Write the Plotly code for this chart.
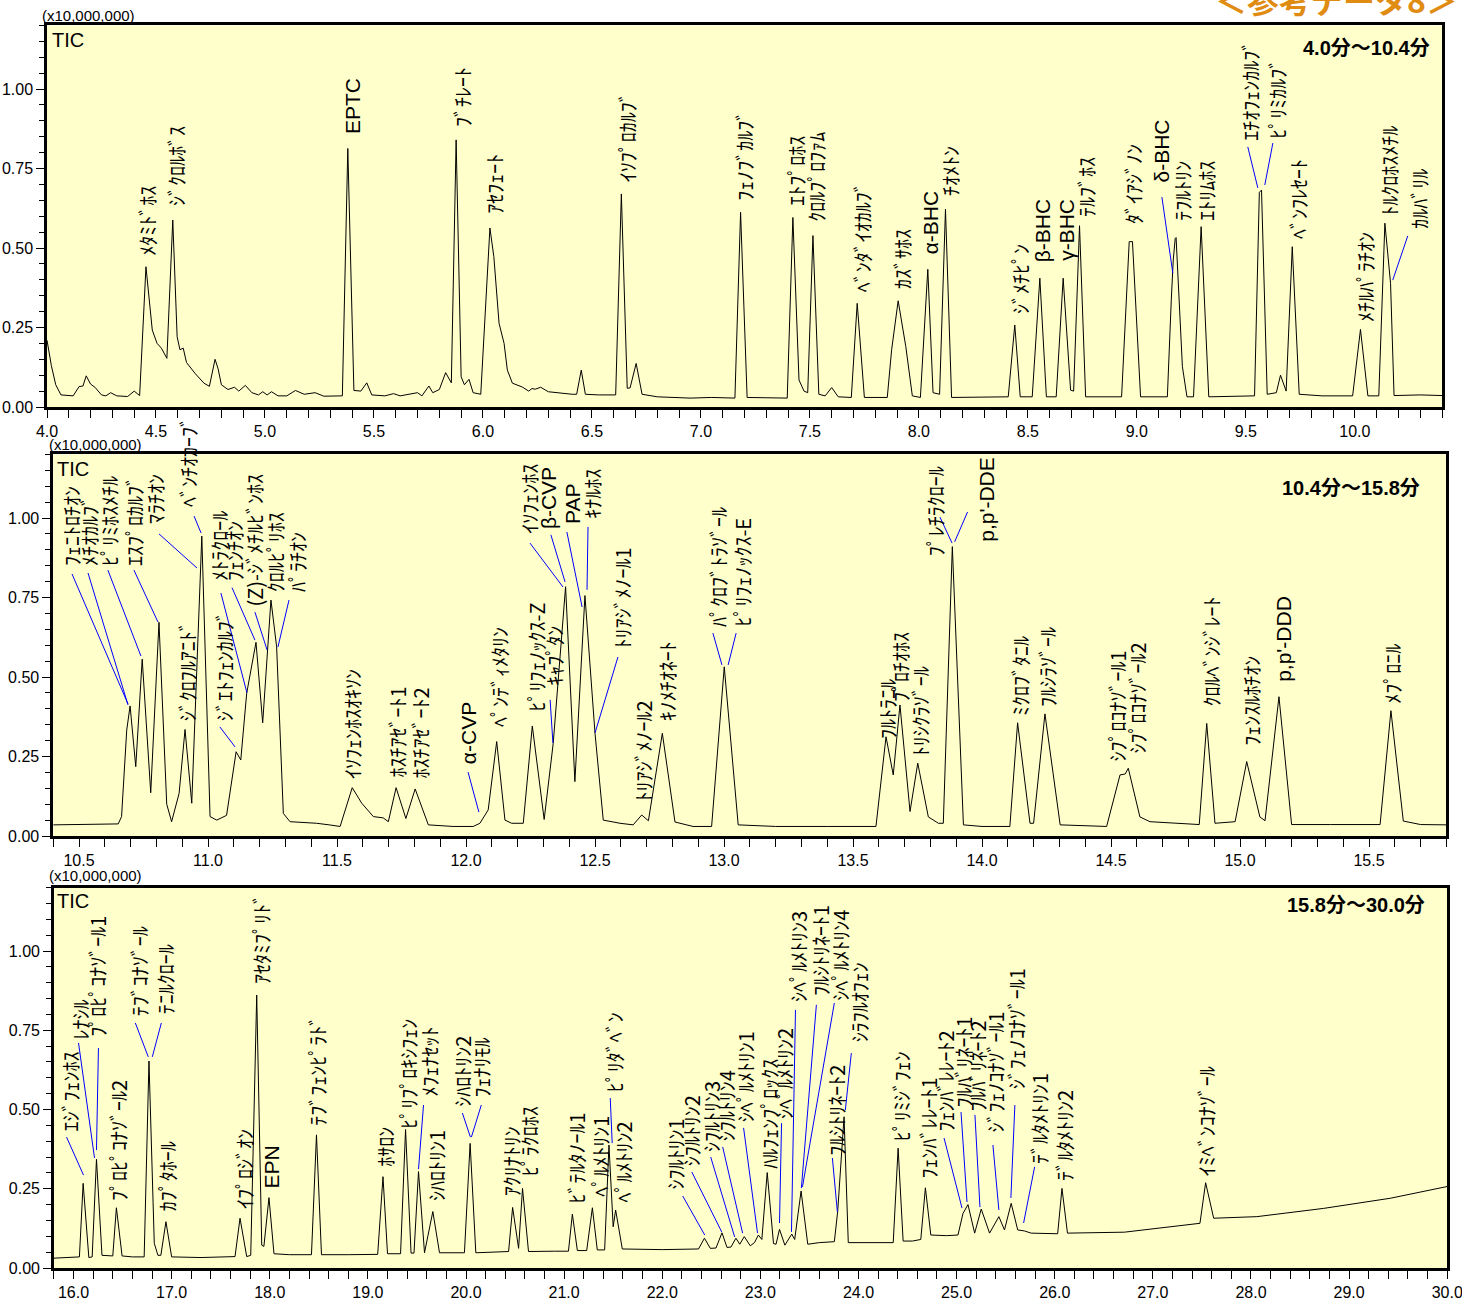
import plotly.graph_objects as go

# ---------------------------------------------------------------- data
# Panel 1 : 4.0 - 10.4 min  (TIC, x10,000,000)
p1_time = [4.000, 4.020, 4.040, 4.064, 4.120, 4.147, 4.165, 4.180, 4.200, 4.220,
           4.250, 4.270, 4.292, 4.320, 4.370, 4.400, 4.425, 4.454, 4.483, 4.505,
           4.525, 4.550, 4.577, 4.597, 4.610, 4.625, 4.640, 4.680, 4.720, 4.745,
           4.771, 4.785, 4.800, 4.830, 4.860, 4.880, 4.910, 4.940, 4.970, 4.990,
           5.010, 5.030, 5.060, 5.100, 5.140, 5.180, 5.230, 5.270, 5.355, 5.380,
           5.408, 5.440, 5.467, 5.490, 5.550, 5.590, 5.620, 5.660, 5.700, 5.720,
           5.752, 5.770, 5.800, 5.829, 5.855, 5.877, 5.900, 5.915, 5.936, 5.955,
           5.990, 6.032, 6.050, 6.074, 6.097, 6.112, 6.135, 6.180, 6.210, 6.225,
           6.240, 6.265, 6.300, 6.410, 6.430, 6.451, 6.470, 6.530, 6.609, 6.635,
           6.662, 6.675, 6.703, 6.730, 6.800, 6.950, 7.050, 7.156, 7.182, 7.212,
           7.300, 7.396, 7.422, 7.450, 7.473, 7.490, 7.514, 7.541, 7.570, 7.600,
           7.630, 7.690, 7.717, 7.750, 7.855, 7.875, 7.905, 7.940, 7.970, 8.007,
           8.041, 8.065, 8.095, 8.122, 8.150, 8.300, 8.410, 8.440, 8.465, 8.520,
           8.555, 8.585, 8.630, 8.662, 8.696, 8.710, 8.737, 8.765, 8.930, 8.965,
           8.980, 9.017, 9.140, 9.158, 9.167, 9.176, 9.180, 9.209, 9.230, 9.260,
           9.295, 9.330, 9.450, 9.540, 9.562, 9.572, 9.598, 9.640, 9.659, 9.675,
           9.685, 9.713, 9.745, 9.850, 9.990, 10.026, 10.060, 10.110, 10.138, 10.164,
           10.180, 10.300, 10.400]
p1_tic = [0.210, 0.130, 0.070, 0.038, 0.035, 0.064, 0.066, 0.098, 0.072, 0.062,
          0.038, 0.035, 0.045, 0.035, 0.033, 0.050, 0.036, 0.441, 0.242, 0.200,
          0.185, 0.153, 0.588, 0.221, 0.180, 0.185, 0.140, 0.105, 0.075, 0.065,
          0.150, 0.120, 0.070, 0.055, 0.062, 0.050, 0.068, 0.045, 0.038, 0.048,
          0.038, 0.048, 0.035, 0.035, 0.052, 0.040, 0.045, 0.034, 0.035, 0.813,
          0.052, 0.050, 0.076, 0.038, 0.035, 0.042, 0.035, 0.040, 0.045, 0.035,
          0.066, 0.045, 0.055, 0.108, 0.076, 0.840, 0.095, 0.070, 0.087, 0.045,
          0.040, 0.563, 0.473, 0.263, 0.200, 0.116, 0.075, 0.063, 0.050, 0.058,
          0.056, 0.062, 0.048, 0.040, 0.040, 0.116, 0.040, 0.038, 0.038, 0.670,
          0.059, 0.060, 0.137, 0.040, 0.032, 0.028, 0.030, 0.028, 0.612, 0.030,
          0.028, 0.028, 0.596, 0.085, 0.050, 0.045, 0.539, 0.040, 0.035, 0.061,
          0.032, 0.030, 0.326, 0.030, 0.030, 0.180, 0.334, 0.190, 0.035, 0.030,
          0.433, 0.045, 0.040, 0.622, 0.030, 0.030, 0.032, 0.258, 0.032, 0.032,
          0.405, 0.032, 0.032, 0.405, 0.053, 0.050, 0.570, 0.032, 0.032, 0.520,
          0.520, 0.032, 0.032, 0.336, 0.462, 0.530, 0.533, 0.127, 0.032, 0.032,
          0.567, 0.032, 0.035, 0.035, 0.675, 0.682, 0.040, 0.045, 0.100, 0.065,
          0.050, 0.504, 0.040, 0.035, 0.035, 0.244, 0.035, 0.035, 0.578, 0.389,
          0.036, 0.038, 0.036]

# Panel 2 : 10.4 - 15.8 min
p2_time = [10.400, 10.550, 10.652, 10.665, 10.685, 10.698, 10.720, 10.745, 10.778, 10.810,
           10.840, 10.859, 10.888, 10.911, 10.937, 10.976, 11.008, 11.034, 11.072, 11.109,
           11.127, 11.150, 11.186, 11.212, 11.244, 11.266, 11.292, 11.318, 11.421, 11.470,
           11.512, 11.559, 11.596, 11.641, 11.679, 11.699, 11.729, 11.767, 11.803, 11.854,
           11.950, 12.028, 12.054, 12.086, 12.119, 12.151, 12.177, 12.222, 12.257, 12.303,
           12.338, 12.386, 12.422, 12.461, 12.500, 12.532, 12.597, 12.648, 12.681, 12.707,
           12.761, 12.810, 12.880, 12.952, 13.001, 13.055, 13.200, 13.400, 13.589, 13.628,
           13.656, 13.682, 13.721, 13.751, 13.792, 13.831, 13.850, 13.885, 13.928, 14.000,
           14.108, 14.138, 14.186, 14.200, 14.244, 14.303, 14.483, 14.535, 14.555, 14.567,
           14.612, 14.651, 14.819, 14.842, 14.871, 14.903, 14.981, 15.026, 15.077, 15.097,
           15.151, 15.200, 15.350, 15.543, 15.585, 15.633, 15.700, 15.800]
p2_tic = [0.035, 0.036, 0.038, 0.061, 0.333, 0.409, 0.218, 0.556, 0.136, 0.672,
          0.100, 0.045, 0.134, 0.335, 0.103, 0.943, 0.061, 0.050, 0.065, 0.265,
          0.239, 0.449, 0.609, 0.356, 0.742, 0.595, 0.071, 0.045, 0.040, 0.035,
          0.030, 0.152, 0.103, 0.061, 0.057, 0.045, 0.152, 0.055, 0.148, 0.035,
          0.030, 0.030, 0.040, 0.082, 0.297, 0.050, 0.040, 0.040, 0.346, 0.052,
          0.291, 0.784, 0.171, 0.756, 0.323, 0.050, 0.040, 0.035, 0.066, 0.048,
          0.323, 0.044, 0.030, 0.030, 0.532, 0.035, 0.030, 0.030, 0.030, 0.312,
          0.192, 0.412, 0.077, 0.229, 0.060, 0.040, 0.040, 0.910, 0.035, 0.030,
          0.030, 0.356, 0.040, 0.040, 0.384, 0.035, 0.030, 0.192, 0.195, 0.213,
          0.060, 0.045, 0.036, 0.036, 0.354, 0.040, 0.045, 0.234, 0.060, 0.048,
          0.438, 0.036, 0.036, 0.036, 0.394, 0.047, 0.036, 0.035]

# Panel 3 : 15.8 - 30.0 min
p3_time = [15.800, 16.040, 16.060, 16.098, 16.156, 16.190, 16.234, 16.290, 16.400, 16.437,
           16.495, 16.600, 16.720, 16.769, 16.823, 16.860, 16.890, 16.942, 17.000, 17.300,
           17.646, 17.697, 17.765, 17.806, 17.867, 17.918, 17.940, 17.992, 18.043, 18.200,
           18.425, 18.476, 18.527, 18.800, 19.100, 19.154, 19.200, 19.333, 19.384, 19.440,
           19.470, 19.516, 19.577, 19.662, 19.730, 19.984, 20.042, 20.100, 20.300, 20.434,
           20.475, 20.536, 20.576, 20.637, 20.900, 21.044, 21.084, 21.135, 21.230, 21.288,
           21.338, 21.413, 21.457, 21.500, 21.525, 21.593, 22.000, 22.370, 22.430, 22.490,
           22.548, 22.609, 22.660, 22.700, 22.751, 22.790, 22.836, 22.897, 22.940, 22.980,
           23.015, 23.070, 23.134, 23.160, 23.195, 23.250, 23.320, 23.350, 23.415, 23.483,
           23.600, 23.754, 23.788, 23.853, 23.896, 24.100, 24.354, 24.404, 24.455, 24.550,
           24.635, 24.682, 24.737, 24.900, 25.014, 25.065, 25.116, 25.184, 25.251, 25.336,
           25.431, 25.488, 25.556, 25.623, 25.690, 25.760, 26.030, 26.074, 26.130, 26.710,
           27.480, 27.538, 27.620, 28.060, 28.740, 29.420, 30.000]
p3_tic = [0.031, 0.035, 0.035, 0.267, 0.033, 0.035, 0.343, 0.040, 0.038, 0.190,
          0.038, 0.035, 0.035, 0.653, 0.078, 0.040, 0.040, 0.146, 0.035, 0.033,
          0.036, 0.157, 0.036, 0.040, 0.861, 0.072, 0.068, 0.222, 0.045, 0.042,
          0.042, 0.420, 0.042, 0.042, 0.043, 0.288, 0.045, 0.045, 0.437, 0.047,
          0.047, 0.304, 0.048, 0.178, 0.048, 0.048, 0.393, 0.048, 0.050, 0.052,
          0.191, 0.062, 0.251, 0.052, 0.053, 0.053, 0.170, 0.055, 0.055, 0.190,
          0.057, 0.057, 0.388, 0.130, 0.183, 0.060, 0.058, 0.060, 0.094, 0.062,
          0.063, 0.111, 0.065, 0.066, 0.094, 0.075, 0.099, 0.070, 0.080, 0.104,
          0.090, 0.301, 0.077, 0.075, 0.122, 0.072, 0.107, 0.090, 0.243, 0.075,
          0.080, 0.083, 0.178, 0.477, 0.080, 0.080, 0.080, 0.378, 0.085, 0.085,
          0.090, 0.253, 0.104, 0.102, 0.104, 0.172, 0.200, 0.110, 0.186, 0.110,
          0.162, 0.120, 0.204, 0.120, 0.117, 0.110, 0.108, 0.251, 0.110, 0.113,
          0.141, 0.269, 0.157, 0.162, 0.188, 0.220, 0.257]

# peak labels: (name, retention-time position, intensity position of text start)
p1_labels = [
    ("ﾒﾀﾐﾄﾞﾎｽ", 4.463, 0.472), ("ｼﾞｸﾛﾙﾎﾞｽ", 4.596, 0.629), ("EPTC", 5.399, 0.855),
    ("ﾌﾞﾁﾚｰﾄ", 5.904, 0.877), ("ｱｾﾌｪｰﾄ", 6.055, 0.604), ("ｲｿﾌﾟﾛｶﾙﾌﾞ", 6.661, 0.704),
    ("ﾌｪﾉﾌﾞｶﾙﾌﾞ", 7.202, 0.645), ("ｴﾄﾌﾟﾛﾎｽ", 7.440, 0.629), ("ｸﾛﾙﾌﾟﾛﾌｧﾑ", 7.532, 0.579),
    ("ﾍﾞﾝﾀﾞｲｵｶﾙﾌﾞ", 7.739, 0.358), ("ｶｽﾞｻﾎｽ", 7.927, 0.368), ("α-BHC", 8.055, 0.478),
    ("ﾁｵﾒﾄﾝ", 8.142, 0.660), ("ｼﾞﾒﾁﾋﾟﾝ", 8.463, 0.289), ("β-BHC", 8.569, 0.453),
    ("γ-BHC", 8.679, 0.456), ("ﾃﾙﾌﾞﾎｽ", 8.766, 0.594), ("ﾀﾞｲｱｼﾞﾉﾝ", 8.982, 0.572),
    ("δ-BHC", 9.115, 0.704), ("ﾃﾌﾙﾄﾘﾝ", 9.211, 0.582), ("ｴﾄﾘﾑﾎｽ", 9.321, 0.582),
    ("ｴﾁｵﾌｪﾝｶﾙﾌﾞ", 9.518, 0.833), ("ﾋﾟﾘﾐｶﾙﾌﾞ", 9.647, 0.840), ("ﾍﾞﾝﾌﾚｾｰﾄ", 9.739, 0.525),
    ("ﾒﾁﾙﾊﾟﾗﾁｵﾝ", 10.046, 0.264), ("ﾄﾙｸﾛﾎｽﾒﾁﾙ", 10.161, 0.598), ("ｶﾙﾊﾞﾘﾙ", 10.298, 0.557),
]
p2_labels = [
    ("ﾌｪﾆﾄﾛﾁｵﾝ", 10.473, 0.846), ("ﾒﾁｵｶﾙﾌﾞ", 10.543, 0.846), ("ﾋﾟﾘﾐﾎｽﾒﾁﾙ", 10.620, 0.846),
    ("ｴｽﾌﾟﾛｶﾙﾌﾞ", 10.717, 0.846), ("ﾏﾗﾁｵﾝ", 10.795, 0.978), ("ﾍﾞﾝﾁｵｶｰﾌﾞ", 10.922, 1.031),
    ("ｼﾞｸﾛﾌﾙｱﾆﾄﾞ", 10.919, 0.358), ("ｼﾞｴﾄﾌｪﾝｶﾙﾌﾞ", 11.062, 0.358), ("ﾒﾄﾗｸﾛｰﾙ", 11.046, 0.799),
    ("ﾌｪﾝﾁｵﾝ", 11.105, 0.799), ("(Z)-ｼﾞﾒﾁﾙﾋﾞﾝﾎｽ", 11.182, 0.720), ("ｸﾛﾙﾋﾟﾘﾎｽ", 11.260, 0.764),
    ("ﾊﾟﾗﾁｵﾝ", 11.345, 0.764), ("ｲｿﾌｪﾝﾎｽｵｷｿﾝ", 11.558, 0.176), ("ﾎｽﾁｱｾﾞｰﾄ1", 11.736, 0.182),
    ("ﾎｽﾁｱｾﾞｰﾄ2", 11.822, 0.176), ("α-CVP", 12.008, 0.223), ("ﾍﾟﾝﾃﾞｨﾒﾀﾘﾝ", 12.132, 0.340),
    ("ﾋﾟﾘﾌｪﾉｯｸｽ-Z", 12.275, 0.390), ("ｷｬﾌﾟﾀﾝ", 12.345, 0.469), ("ｲｿﾌｪﾝﾎｽ", 12.248, 0.947),
    ("β-CVP", 12.318, 0.962), ("PAP", 12.411, 0.978), ("ｷﾅﾙﾎｽ", 12.492, 0.994),
    ("ﾄﾘｱｼﾞﾒﾉｰﾙ1", 12.605, 0.585), ("ﾄﾘｱｼﾞﾒﾉｰﾙ2", 12.686, 0.107), ("ｷﾉﾒﾁｵﾈｰﾄ", 12.779, 0.358),
    ("ﾊﾟｸﾛﾌﾞﾄﾗｿﾞｰﾙ", 12.977, 0.654), ("ﾋﾟﾘﾌｪﾉｯｸｽ-E", 13.070, 0.654), ("ﾌﾙﾄﾗﾆﾙ", 13.636, 0.302),
    ("ﾌﾟﾛﾁｵﾎｽ", 13.682, 0.418), ("ﾄﾘｼｸﾗｿﾞｰﾙ", 13.760, 0.248), ("ﾌﾟﾚﾁﾗｸﾛｰﾙ", 13.818, 0.877),
    ("p,p'-DDE", 14.016, 0.921), ("ﾐｸﾛﾌﾞﾀﾆﾙ", 14.147, 0.374), ("ﾌﾙｼﾗｿﾞｰﾙ", 14.256, 0.403),
    ("ｼﾌﾟﾛｺﾅｿﾞｰﾙ1", 14.524, 0.230), ("ｼﾌﾟﾛｺﾅｿﾞｰﾙ2", 14.601, 0.255), ("ｸﾛﾙﾍﾞﾝｼﾞﾚｰﾄ", 14.890, 0.403),
    ("ﾌｪﾝｽﾙﾎﾁｵﾝ", 15.046, 0.280), ("p,p'-DDD", 15.166, 0.481), ("ﾒﾌﾟﾛﾆﾙ", 15.592, 0.412),
]
p3_labels = [
    ("ｴｼﾞﾌｪﾝﾎｽ", 15.970, 0.426), ("ﾚﾅｼﾙ", 16.071, 0.719), ("ﾌﾟﾛﾋﾟｺﾅｿﾞｰﾙ1", 16.244, 0.726),
    ("ﾌﾟﾛﾋﾟｺﾅｿﾞｰﾙ2", 16.458, 0.208), ("ﾃﾌﾞｺﾅｿﾞｰﾙ", 16.681, 0.792), ("ﾃﾆﾙｸﾛｰﾙ", 16.935, 0.798),
    ("ｶﾌﾟﾀﾎｰﾙ", 16.966, 0.177), ("ｲﾌﾟﾛｼﾞｵﾝ", 17.748, 0.183), ("ｱｾﾀﾐﾌﾟﾘﾄﾞ", 17.921, 0.893),
    ("EPN", 18.023, 0.246), ("ﾃﾌﾞﾌｪﾝﾋﾟﾗﾄﾞ", 18.490, 0.445), ("ﾎｻﾛﾝ", 19.171, 0.315),
    ("ﾋﾟﾘﾌﾟﾛｷｼﾌｪﾝ", 19.405, 0.435), ("ﾒﾌｪﾅｾｯﾄ", 19.628, 0.536), ("ｼﾊﾛﾄﾘﾝ1", 19.699, 0.208),
    ("ｼﾊﾛﾄﾘﾝ2", 19.963, 0.505), ("ﾌｪﾅﾘﾓﾙ", 20.156, 0.536), ("ｱｸﾘﾅﾄﾘﾝ", 20.472, 0.224),
    ("ﾋﾟﾗｸﾛﾎｽ", 20.645, 0.287), ("ﾋﾞﾃﾙﾀﾉｰﾙ1", 21.122, 0.199), ("ﾍﾟﾙﾒﾄﾘﾝ1", 21.368, 0.221),
    ("ﾋﾟﾘﾀﾞﾍﾞﾝ", 21.511, 0.552), ("ﾍﾟﾙﾒﾄﾘﾝ2", 21.610, 0.205), ("ｼﾌﾙﾄﾘﾝ1", 22.139, 0.246),
    ("ｼﾌﾙﾄﾘﾝ2", 22.302, 0.319), ("ｼﾌﾙﾄﾘﾝ3", 22.504, 0.363), ("ｼﾌﾙﾄﾘﾝ4", 22.657, 0.397),
    ("ｼﾍﾟﾙﾒﾄﾘﾝ1", 22.850, 0.457), ("ﾊﾙﾌｪﾝﾌﾟﾛｯｸｽ", 23.084, 0.309), ("ｼﾍﾟﾙﾒﾄﾘﾝ2", 23.247, 0.467),
    ("ｼﾍﾟﾙﾒﾄﾘﾝ3", 23.389, 0.836), ("ﾌﾙｼﾄﾘﾈｰﾄ1", 23.612, 0.855), ("ｼﾍﾟﾙﾒﾄﾘﾝ4", 23.815, 0.839),
    ("ﾌﾙｼﾄﾘﾈｰﾄ2", 23.774, 0.350), ("ｼﾗﾌﾙｵﾌｪﾝ", 24.018, 0.710), ("ﾋﾟﾘﾐｼﾞﾌｪﾝ", 24.435, 0.397),
    ("ﾌｪﾝﾊﾞﾚﾚｰﾄ1", 24.710, 0.278), ("ﾌｪﾝﾊﾞﾚﾚｰﾄ2", 24.882, 0.426), ("ﾌﾙﾊﾞﾘﾈｰﾄ1", 25.065, 0.505),
    ("ﾌﾙﾊﾞﾘﾈｰﾄ2", 25.218, 0.492), ("ｼﾞﾌｪﾉｺﾅｿﾞｰﾙ1", 25.401, 0.426), ("ｼﾞﾌｪﾉｺﾅｿﾞｰﾙ1", 25.604, 0.562),
    ("ﾃﾞﾙﾀﾒﾄﾘﾝ1", 25.846, 0.325), ("ﾃﾞﾙﾀﾒﾄﾘﾝ2", 26.100, 0.271), ("ｲﾐﾍﾞﾝｺﾅｿﾞｰﾙ", 27.545, 0.287),
]

# leader lines (label end -> peak) in data units
p1_leaders = [(9.115, 0.660, 9.165, 0.421), (9.509, 0.818, 9.555, 0.689),
              (9.624, 0.830, 9.587, 0.698), (10.243, 0.538, 10.174, 0.399)]
p2_leaders = [(10.473, 0.824, 10.690, 0.415), (10.535, 0.827, 10.690, 0.412),
              (10.612, 0.836, 10.740, 0.566), (10.713, 0.836, 10.806, 0.673),
              (10.810, 0.950, 10.957, 0.843), (10.946, 1.006, 10.973, 0.953),
              (11.046, 0.343, 11.105, 0.280), (11.050, 0.764, 11.151, 0.450),
              (11.093, 0.781, 11.182, 0.616), (11.182, 0.704, 11.229, 0.585),
              (11.314, 0.742, 11.271, 0.594), (12.008, 0.201, 12.050, 0.075),
              (12.326, 0.428, 12.337, 0.292), (12.248, 0.921, 12.376, 0.783),
              (12.329, 0.947, 12.384, 0.799), (12.391, 0.956, 12.450, 0.720),
              (12.473, 0.972, 12.469, 0.774), (12.589, 0.563, 12.500, 0.324),
              (12.957, 0.638, 12.992, 0.538), (13.047, 0.638, 13.016, 0.538),
              (13.837, 1.003, 13.884, 0.921), (13.944, 1.019, 13.894, 0.925)]
p3_leaders = [(15.929, 0.413, 16.102, 0.293), (16.051, 0.710, 16.214, 0.347),
              (16.254, 0.694, 16.234, 0.372), (16.630, 0.773, 16.762, 0.666),
              (16.895, 0.773, 16.803, 0.666), (19.567, 0.514, 19.516, 0.312),
              (19.963, 0.489, 20.045, 0.413), (20.156, 0.514, 20.055, 0.413),
              (21.470, 0.536, 21.490, 0.394), (22.209, 0.227, 22.433, 0.104),
              (22.301, 0.303, 22.606, 0.114), (22.494, 0.350, 22.738, 0.098),
              (22.616, 0.382, 22.819, 0.110), (22.829, 0.442, 22.971, 0.110),
              (23.216, 0.457, 23.195, 0.142), (23.358, 0.814, 23.317, 0.114),
              (23.571, 0.830, 23.418, 0.252), (23.754, 0.836, 23.429, 0.256),
              (23.927, 0.678, 23.866, 0.498), (23.734, 0.347, 23.785, 0.177),
              (24.872, 0.410, 25.055, 0.189), (25.045, 0.492, 25.106, 0.208),
              (25.187, 0.483, 25.238, 0.192), (25.370, 0.388, 25.431, 0.183),
              (25.594, 0.514, 25.553, 0.221), (25.795, 0.319, 25.683, 0.142)]

panel_titles = ["4.0分～10.4分", "10.4分～15.8分", "15.8分～30.0分"]
x_ranges = [[4.0, 10.4], [10.4, 15.8], [15.8, 30.0]]
x_dticks = [0.5, 0.5, 1.0]
x_minor = [0.1, 0.1, 0.2]

# ---------------------------------------------------------------- layout geometry
W, H = 1462, 1302
x_domains = [[47 / W, 1442 / W], [53.2 / W, 1446.4 / W], [53.9 / W, 1447.2 / W]]
y_domains = [[1 - 407 / H, 1 - 25.4 / H], [1 - 836 / H, 1 - 454.4 / H], [1 - 1268 / H, 1 - 887.6 / H]]

JP = "Noto Sans CJK JP"
LAT = "Liberation Sans, Arial, Noto Sans CJK JP"

fig = go.Figure()
traces = [(p1_time, p1_tic), (p2_time, p2_tic), (p3_time, p3_tic)]
leaders = [p1_leaders, p2_leaders, p3_leaders]
labels = [p1_labels, p2_labels, p3_labels]

annotations = []
for i in range(3):
    xa = "x" if i == 0 else f"x{i + 1}"
    ya = "y" if i == 0 else f"y{i + 1}"
    t, v = traces[i]
    fig.add_trace(go.Scatter(x=t, y=v, mode="lines", line=dict(color="black", width=1),
                             xaxis=xa, yaxis=ya, hoverinfo="skip", showlegend=False))
    lx, ly = [], []
    for (x0, y0, x1, y1) in leaders[i]:
        lx += [x0, x1, None]
        ly += [y0, y1, None]
    fig.add_trace(go.Scatter(x=lx, y=ly, mode="lines", line=dict(color="#0000FF", width=1),
                             xaxis=xa, yaxis=ya, hoverinfo="skip", showlegend=False))
    for (name, lxp, lyp) in labels[i]:
        latin = all(ord(c) < 0x3000 for c in name)
        annotations.append(dict(
            x=lxp, y=lyp, xref=xa, yref=ya, text=name, showarrow=False, textangle=-90,
            xanchor="center", yanchor="bottom", borderpad=0,
            font=dict(family=LAT if latin else JP, size=21 if latin else 20, color="black")))

    axis_x = dict(domain=x_domains[i], range=x_ranges[i], anchor=ya, dtick=x_dticks[i], tick0=0,
                  tickformat=".1f", ticks="outside", ticklen=8, tickwidth=1, tickcolor="black",
                  minor=dict(dtick=x_minor[i], tick0=0, ticks="outside", ticklen=8,
                             tickwidth=1, tickcolor="black", showgrid=False),
                  showline=True, linewidth=2.5, linecolor="black", mirror=True,
                  showgrid=False, zeroline=False, automargin=False, ticklabeloverflow="allow",
                  tickfont=dict(family=LAT, size=16, color="black"))
    axis_y = dict(domain=y_domains[i], range=[0, 1.2], anchor=xa, dtick=0.25, tick0=0,
                  tickformat=".2f", ticks="outside", ticklen=8, tickwidth=1, tickcolor="black",
                  minor=dict(dtick=0.05, tick0=0, ticks="outside", ticklen=5,
                             tickwidth=1, tickcolor="black", showgrid=False),
                  showline=True, linewidth=2.5, linecolor="black", mirror=True,
                  showgrid=False, zeroline=False, automargin=False, ticklabeloverflow="allow",
                  tickfont=dict(family=LAT, size=16, color="black"))
    fig.update_layout(**{("xaxis" if i == 0 else f"xaxis{i + 1}"): axis_x,
                         ("yaxis" if i == 0 else f"yaxis{i + 1}"): axis_y})

# panel decorations (paper coordinates)
tic_pos = [(50, 40), (55, 469), (55, 901)]
unit_pos = [(40, 15), (47, 444), (47, 875)]
title_pos = [(1432, 48), (1422, 488), (1427, 905)]
for i in range(3):
    annotations.append(dict(x=tic_pos[i][0] / W, y=1 - tic_pos[i][1] / H, xref="paper", yref="paper",
                            text="TIC", showarrow=False, xanchor="left", yanchor="middle",
                            font=dict(family=LAT, size=20, color="black")))
    annotations.append(dict(x=unit_pos[i][0] / W, y=1 - unit_pos[i][1] / H, xref="paper", yref="paper",
                            text="(x10,000,000)", showarrow=False, xanchor="left", yanchor="middle",
                            font=dict(family=LAT, size=15, color="black")))
    annotations.append(dict(x=title_pos[i][0] / W, y=1 - title_pos[i][1] / H, xref="paper", yref="paper",
                            text="<b>" + panel_titles[i] + "</b>", showarrow=False,
                            xanchor="right", yanchor="middle",
                            font=dict(family=LAT, size=20, color="black")))

annotations.append(dict(x=1336 / W, y=1 + 1 / H, xref="paper", yref="paper",
                        text="<b>＜参考データ8＞</b>", showarrow=False, xanchor="center",
                        yanchor="middle", font=dict(family=JP, size=32, color="#E08C12")))

fig.update_layout(width=W, height=H, autosize=False,
                  margin=dict(l=0, r=0, t=0, b=0, pad=0),
                  plot_bgcolor="#FFFFCC", paper_bgcolor="white",
                  showlegend=False, annotations=annotations, hovermode=False)

fig.write_html("out.html", config={"displayModeBar": False},
               post_script="document.body.style.margin='0px';document.body.style.padding='0px';")
